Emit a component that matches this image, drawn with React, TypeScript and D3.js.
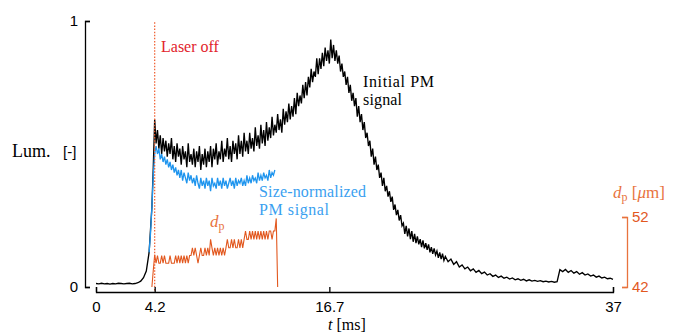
import React, { useEffect, useRef } from "react";
import * as d3 from "d3";

const W = 675;
const H = 335;

// Axis domains & ticks
const timeDomain: [number, number] = [0, 37];
const timeTicks = [0, 4.2, 16.7, 37];
const lumDomain: [number, number] = [0, 1];
const lumTicks = [0, 1];
const dpDomain: [number, number] = [42, 52];
const dpTicks = [42, 52];
const laserOffTime = 4.2;

// Initial PM signal (normalised luminosity), in three sampled pieces
// piece 1: t = 0 .. 4.0 ms, every 0.2 ms
const initialA = [
  0.013, 0.012, 0.014, 0.012, 0.013, 0.011, 0.013, 0.012, 0.014, 0.013,
  0.012, 0.013, 0.014, 0.012, 0.013, 0.016, 0.022, 0.035, 0.06, 0.13,
  0.30,
];
// piece 2: t = 4.1 .. 25.0 ms, every 0.1 ms
const initialB = [
  0.45, 0.63, 0.54, 0.59, 0.52, 0.57, 0.50, 0.56, 0.51,
  0.55, 0.49, 0.54, 0.50, 0.56, 0.48, 0.53, 0.47, 0.54, 0.49,
  0.52, 0.46, 0.53, 0.48, 0.51, 0.45, 0.54, 0.47, 0.50, 0.46,
  0.52, 0.45, 0.51, 0.47, 0.53, 0.44, 0.50, 0.46, 0.52, 0.45,
  0.51, 0.47, 0.53, 0.45, 0.52, 0.48, 0.54, 0.46, 0.51, 0.48,
  0.55, 0.47, 0.52, 0.49, 0.56, 0.48, 0.53, 0.47, 0.55, 0.50,
  0.54, 0.48, 0.57, 0.50, 0.55, 0.49, 0.58, 0.51, 0.55, 0.50,
  0.58, 0.52, 0.56, 0.51, 0.60, 0.53, 0.57, 0.52, 0.61, 0.54,
  0.59, 0.53, 0.62, 0.55, 0.60, 0.56, 0.64, 0.57, 0.61, 0.58,
  0.65, 0.59, 0.63, 0.58, 0.67, 0.61, 0.66, 0.62, 0.69, 0.63,
  0.68, 0.64, 0.71, 0.65, 0.73, 0.68, 0.72, 0.69, 0.76, 0.71,
  0.77, 0.72, 0.79, 0.75, 0.82, 0.77, 0.81, 0.79, 0.86, 0.80,
  0.86, 0.82, 0.88, 0.83, 0.90, 0.85, 0.89, 0.84, 0.93, 0.86,
  0.91, 0.85, 0.89, 0.84, 0.87, 0.81, 0.84, 0.79, 0.81, 0.76,
  0.79, 0.73, 0.76, 0.70, 0.73, 0.68, 0.71, 0.64, 0.68, 0.62,
  0.65, 0.59, 0.62, 0.56, 0.58, 0.53, 0.55, 0.49, 0.52, 0.46,
  0.49, 0.44, 0.46, 0.41, 0.43, 0.38, 0.41, 0.36, 0.38, 0.34,
  0.36, 0.32, 0.34, 0.29, 0.31, 0.27, 0.29, 0.25, 0.27, 0.23,
  0.24, 0.20, 0.23, 0.19, 0.22, 0.18, 0.21, 0.17, 0.20, 0.165,
  0.19, 0.16, 0.18, 0.15, 0.175, 0.145, 0.165, 0.14, 0.16, 0.13,
  0.15, 0.125, 0.145, 0.12, 0.135, 0.11, 0.13, 0.105, 0.125, 0.10,
  0.115,
];
// piece 3: t = 25.2 .. 37.0 ms, every 0.2 ms
const initialC = [
  0.095, 0.105, 0.085, 0.095,
  0.075, 0.083, 0.068, 0.075, 0.061, 0.068, 0.055, 0.062, 0.05, 0.056,
  0.045, 0.05, 0.04, 0.045, 0.036, 0.041, 0.033, 0.037, 0.03, 0.034,
  0.027, 0.031, 0.025, 0.029, 0.023, 0.027, 0.022, 0.025, 0.021, 0.024,
  0.02, 0.022, 0.019, 0.021, 0.018, 0.02, 0.065, 0.058, 0.066, 0.055,
  0.062, 0.052, 0.058, 0.048, 0.054, 0.045, 0.049, 0.041, 0.045, 0.037,
  0.041, 0.034, 0.037, 0.031, 0.033, 0.029,
];
const initialPieces: [number, number, number[]][] = [
  [0, 0.2, initialA],
  [4.1, 0.1, initialB],
  [25.2, 0.2, initialC],
];

// Size-normalized PM signal, every 0.1 ms from t = 3.8
const normStart = 3.8;
const normStep = 0.1;
const sizeNormalizedPM = [
  0.13, 0.20, 0.30, 0.42, 0.50, 0.53, 0.50, 0.52, 0.48, 0.50, 0.47, 0.49,
  0.46, 0.48, 0.45, 0.47, 0.44, 0.46, 0.43, 0.45, 0.42, 0.44,
  0.41, 0.44, 0.40, 0.43, 0.41, 0.39, 0.43, 0.40, 0.42, 0.39,
  0.41, 0.38, 0.42, 0.39, 0.37, 0.41, 0.38, 0.40, 0.37, 0.41,
  0.38, 0.40, 0.36, 0.41, 0.38, 0.39, 0.37, 0.41, 0.38, 0.40,
  0.37, 0.41, 0.38, 0.40, 0.37, 0.39, 0.41, 0.38, 0.40, 0.37,
  0.41, 0.38, 0.40, 0.39, 0.41, 0.38, 0.40, 0.38, 0.42, 0.39,
  0.41, 0.39, 0.42, 0.40, 0.41, 0.39, 0.43, 0.40, 0.42, 0.40,
  0.43, 0.41, 0.42, 0.40, 0.44, 0.41, 0.43, 0.42, 0.44,
];

// Particle diameter d_p [µm], every 0.1 ms from t = 4.0
const dpStart = 4.0;
const dpStep = 0.1;
const dpValues = [
  42.0, 44.4, 46.6, 45.4, 46.5, 45.4, 45.4, 46.5, 45.4, 46.5,
  45.4, 45.4, 45.4, 46.5, 45.4, 45.4, 45.4, 46.5, 45.4, 46.5,
  45.4, 46.5, 45.4, 46.5, 45.4, 46.5, 45.4, 46.5, 46.5, 47.6,
  46.5, 47.6, 46.5, 45.4, 46.5, 47.6, 46.5, 46.5, 47.6, 46.5,
  47.6, 46.5, 48.8, 47.6, 46.5, 47.6, 46.5, 47.6, 46.5, 47.6,
  46.5, 47.6, 46.5, 47.6, 48.8, 47.6, 47.6, 48.8, 47.6, 48.8,
  47.6, 47.6, 48.8, 47.6, 48.8, 47.6, 48.8, 50.0, 48.8, 48.8,
  50.0, 48.8, 50.0, 48.8, 50.0, 48.8, 50.0, 48.8, 50.0, 48.8,
  50.0, 48.8, 50.0, 48.8, 50.0, 50.0, 48.8, 50.0, 50.0, 51.8,
  42.0,
];

const BLACK = "#000000";
const BLUE = "#1f95ee";
const BLUE_TEXT = "#3a9ff0";
const ORANGE = "#e2581f";
const ORANGE_LIGHT = "#e8733d";
const RED = "#e2232b";
const SERIF = '"Liberation Serif", "DejaVu Serif", "Times New Roman", serif';
const SANS = '"Liberation Sans", Arial, sans-serif';

export default function App() {
  const axRef = useRef<SVGGElement>(null);

  const x = d3.scaleLinear().domain(timeDomain).range([96, 613]);
  const y = d3.scaleLinear().domain(lumDomain).range([287, 21]);
  const yR = d3.scaleLinear().domain(dpDomain).range([287, 217]);

  const toPoints = (start: number, step: number, vals: number[]) =>
    vals.map((v, i) => [start + i * step, v] as [number, number]);

  const blackPts = initialPieces.flatMap(([s, st, v]) => toPoints(s, st, v));
  const bluePts = toPoints(normStart, normStep, sizeNormalizedPM);
  const dpPts = toPoints(dpStart, dpStep, dpValues);

  const lineL = d3
    .line<[number, number]>()
    .x((d) => x(d[0]))
    .y((d) => y(d[1]));
  const lineR = d3
    .line<[number, number]>()
    .x((d) => x(d[0]))
    .y((d) => yR(d[1]));

  useEffect(() => {
    if (!axRef.current) return;
    const g = d3.select(axRef.current);
    g.selectAll("*").remove();
    const fmt = (d: d3.NumberValue) => String(d);

    const left = g
      .append("g")
      .attr("transform", "translate(85,0)")
      .call(
        d3
          .axisLeft(y)
          .tickValues(lumTicks)
          .tickSizeInner(-5)
          .tickSizeOuter(-5)
          .tickPadding(7)
          .tickFormat(fmt)
      );
    const bottom = g
      .append("g")
      .attr("transform", "translate(0,292)")
      .call(
        d3
          .axisBottom(x)
          .tickValues(timeTicks)
          .tickSizeInner(-5)
          .tickSizeOuter(-5)
          .tickPadding(9)
          .tickFormat(fmt)
      );
    const right = g
      .append("g")
      .attr("transform", "translate(627,0)")
      .call(
        d3
          .axisRight(yR)
          .tickValues(dpTicks)
          .tickSizeInner(-5)
          .tickSizeOuter(-5)
          .tickPadding(5)
          .tickFormat(fmt)
      );

    [left, bottom].forEach((a) => {
      a.select(".domain").attr("stroke", BLACK).attr("stroke-width", 1.3);
      a.selectAll(".tick line").attr("stroke", BLACK).attr("stroke-width", 1.3);
      a.selectAll(".tick text")
        .attr("fill", BLACK)
        .style("font-family", SANS)
        .style("font-size", "15px");
    });
    right.select(".domain").attr("stroke", ORANGE_LIGHT).attr("stroke-width", 1.3);
    right.selectAll(".tick line").attr("stroke", ORANGE_LIGHT).attr("stroke-width", 1.3);
    right
      .selectAll(".tick text")
      .attr("fill", ORANGE)
      .style("font-family", SANS)
      .style("font-size", "15px");
  }, []);

  const xl = x(laserOffTime);
  const serif = { fontFamily: SERIF };

  return (
    <svg
      width={W}
      height={H}
      viewBox={`0 0 ${W} ${H}`}
      style={{ position: "absolute", left: 0, top: 0, background: "#fff" }}
    >
      <rect x={0} y={0} width={W} height={H} fill="#fff" />
      <path d={lineL(blackPts) || ""} fill="none" stroke={BLACK} strokeWidth={1.35} />
      <path d={lineL(bluePts) || ""} fill="none" stroke={BLUE} strokeWidth={1.3} />
      <path d={lineR(dpPts) || ""} fill="none" stroke={ORANGE} strokeWidth={1.1} />
      <line
        x1={xl}
        x2={xl}
        y1={y(0.995)}
        y2={292}
        stroke="#ef5a2a"
        strokeWidth={1.2}
        strokeDasharray="1.5,1.6"
      />
      <g ref={axRef} />

      <text x={161} y={52} fill={RED} style={serif} fontSize={16}>
        Laser off
      </text>
      <text x={363} y={87} fill={BLACK} style={serif} fontSize={16} textLength={71}>
        Initial PM
      </text>
      <text x={363} y={105} fill={BLACK} style={serif} fontSize={16} textLength={39}>
        signal
      </text>
      <text x={259} y={197} fill={BLUE_TEXT} style={serif} fontSize={16} textLength={107}>
        Size-normalized
      </text>
      <text x={259} y={215} fill={BLUE_TEXT} style={serif} fontSize={16} textLength={70}>
        PM signal
      </text>
      <text x={12} y={157} fill={BLACK} style={serif} fontSize={18}>
        Lum.
        <tspan x={63} style={{ fontFamily: SANS }} fontSize={15}>
          [-]
        </tspan>
      </text>
      <text x={210} y={227} fill={ORANGE_LIGHT} style={serif} fontSize={17}>
        <tspan fontStyle="italic">d</tspan>
        <tspan fontSize={12} dy={3}>
          p
        </tspan>
      </text>
      <text x={613} y={198} fill={ORANGE_LIGHT} style={serif} fontSize={17}>
        <tspan fontStyle="italic">d</tspan>
        <tspan fontSize={12} dy={3}>
          p
        </tspan>
        <tspan dy={-3}>{"\u00a0["}</tspan>
        <tspan fontStyle="italic">μ</tspan>
        <tspan>m]</tspan>
      </text>
      <text x={328} y={330} fill={BLACK} style={serif} fontSize={16}>
        <tspan fontStyle="italic">t</tspan>
        <tspan>{"\u00a0[ms]"}</tspan>
      </text>
    </svg>
  );
}
